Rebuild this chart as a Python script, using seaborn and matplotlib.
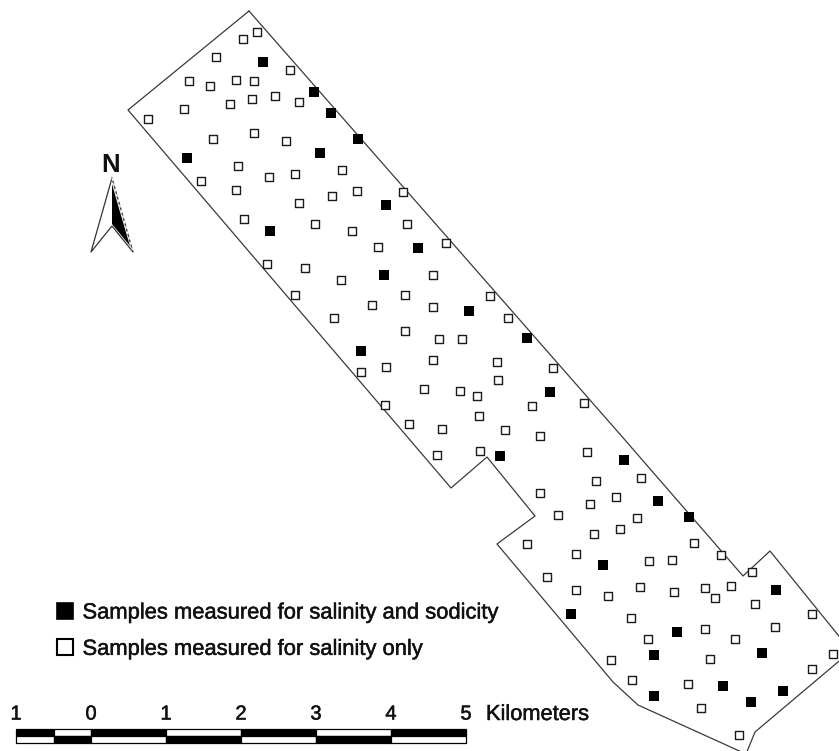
import matplotlib
matplotlib.use("Agg")
import matplotlib.pyplot as plt
from matplotlib.lines import Line2D
from matplotlib.patches import Polygon, Rectangle
import matplotlib.patheffects as pe
import pandas as pd
import seaborn as sns

# Sample locations (image pixel grid)
both_x = [263,314,331,358,320,187,386,270,418,384,469,527,361,550,500,624,658,689,603,776,571,677,654,762,723,783,654,751]
both_y = [62,92,113,139,153,158,205,231,248,275,311,338,351,392,456,460,501,517,565,590,614,632,655,653,686,691,696,702]
salinity_x = [257,243,216,290,189,210,236,254,275,252,230,299,184,148,254,213,286,342,238,269,295,201,236,357,332,403,299,244,315,352,407,378,267,305,341,446,433,405,295,372,433,334,490,508,405,439,462,433,497,386,361,553,498,424,460,477,532,584,385,479,409,442,505,540,587,437,480,596,641,540,616,590,558,637,527,620,594,694,576,721,649,672,752,547,576,640,608,674,705,731,715,755,812,631,705,775,648,735,710,833,611,812,632,688,701,739]
salinity_y = [32,39,57,70,81,86,80,81,96,99,104,102,109,119,133,139,141,170,166,177,174,181,190,191,196,192,203,219,224,231,224,247,264,268,280,243,275,295,295,305,307,318,296,318,331,339,339,360,362,367,372,368,380,389,391,396,406,403,405,416,424,429,430,436,452,455,451,481,478,493,497,504,515,518,544,529,534,543,554,555,561,560,572,577,590,587,596,592,588,586,598,604,614,618,629,627,639,639,659,654,660,669,680,684,708,735]
# Field boundary
field_x = [249,128,451,487,535,497,613,638,746,755,851,770,743,625,249]
field_y = [11,110,488,457,516,544,682,705,754,732,651,551,576,440,11]
# Scale bar
scale_labels = ["1","0","1","2","3","4","5"]
scale_km = [-1,0,1,2,3,4,5]
top_edges = [-1,-0.5,0,1,2,3,4,5]
legend_labels = ["Samples measured for salinity and sodicity","Samples measured for salinity only"]

sns.set_style("white")
plt.rcParams["font.family"] = ["Liberation Sans","DejaVu Sans"]
INK = "#111111"
thick = [pe.withStroke(linewidth=0.35, foreground=INK)]
fig = plt.figure(figsize=(8.39,7.51), dpi=100)
ax = fig.add_axes([0,0,1,1])
ax.set_xlim(0,839); ax.set_ylim(751,0); ax.axis("off")

ax.plot(field_x, field_y, color="#3a3a3a", lw=0.9, zorder=1)

sns.scatterplot(data=pd.DataFrame({"x":salinity_x,"y":salinity_y}), x="x", y="y", ax=ax, marker="s",
                s=30, facecolor="white", edgecolor="#1a1a1a", linewidth=1.0, zorder=2, legend=False)
sns.scatterplot(data=pd.DataFrame({"x":both_x,"y":both_y}), x="x", y="y", ax=ax, marker="s",
                s=44, color="black", edgecolor="black", linewidth=0, zorder=3, legend=False)
ax.axis("off")

# Legend
handles = [Line2D([],[],ls="",marker="s",ms=12,mfc="black",mec="black",mew=1.2),
           Line2D([],[],ls="",marker="s",ms=11.4,mfc="white",mec="black",mew=1.5)]
leg = ax.legend(handles, legend_labels, loc="upper left", bbox_to_anchor=(55.5/839,1-602.5/751), frameon=False,
          fontsize=15.8, labelcolor=INK, handletextpad=0.4, labelspacing=0.70, borderpad=0, borderaxespad=0, handlelength=0.83)
for t in leg.get_texts():
    t.set_path_effects(thick)

# North arrow
ax.add_patch(Polygon([(112,184),(112,224),(130,246),(120,212)], fc="black", ec="none", zorder=2))
ax.plot([112,91,112,133,112],[178,252,226,252,178], color="#333333", lw=0.9, zorder=3)
ax.plot([112,133],[178,252], color="white", lw=1.0, ls=(0,(2,2)), zorder=4)
ax.text(110.5,164.5,"N",ha="center",va="center",fontsize=18.5,fontweight="bold",color=INK)

# Scale bar
def km(v):
    return 91 + 75*v
for i in range(len(top_edges)-1):
    x0, x1 = km(top_edges[i]), km(top_edges[i+1])
    top_black = i % 2 == 0
    ax.add_patch(Rectangle((x0,729),x1-x0,7,fc="black" if top_black else "white",ec="black",lw=0.9))
    ax.add_patch(Rectangle((x0,736),x1-x0,7,fc="white" if top_black else "black",ec="black",lw=0.9))
for k, lab in zip(scale_km, scale_labels):
    ax.text(km(k),714,lab,ha="center",va="center",fontsize=14.5,color=INK,path_effects=thick)
ax.text(486,714.5,"Kilometers",ha="left",va="center",fontsize=15.7,color=INK,path_effects=thick)

fig.savefig("out.png", dpi=100)
